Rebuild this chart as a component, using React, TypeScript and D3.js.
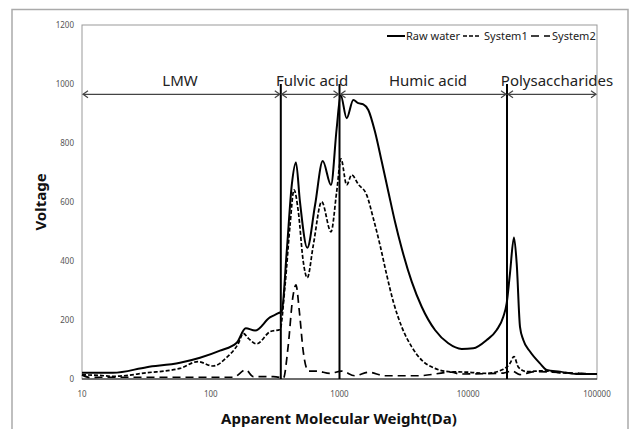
import React from "react";
import * as d3 from "d3";

const rawMW = [10, 17.4, 31.8, 57.7, 82.5, 118, 159, 187, 221, 288, 335, 356, 389, 426, 459, 493, 562, 646, 741, 859, 951, 1021, 1137, 1280, 1400, 1531, 1674, 1887, 2128, 2395, 2698, 3041, 3638, 4348, 5517, 7000, 8892, 10940, 13900, 16630, 18720, 19890, 21090, 22650, 23780, 25230, 26770, 30170, 36060, 40640, 51600, 69500, 100000];
const rawV = [21, 21, 40, 55, 72, 96, 123, 172, 164, 209, 223, 230, 431, 658, 734, 601, 445, 590, 739, 658, 850, 963, 884, 946, 935, 931, 912, 838, 737, 635, 533, 443, 330, 245, 166, 121, 102, 104, 132, 166, 211, 257, 358, 480, 392, 177, 132, 93, 53, 31, 25, 17, 17];

const s1MW = [10, 13.8, 17.4, 31.8, 57.7, 79.6, 104, 133, 164, 179, 196, 227, 288, 345, 378, 413, 443, 479, 523, 562, 626, 727, 859, 951, 1027, 1137, 1244, 1400, 1625, 1830, 2064, 2326, 2618, 3041, 3638, 4348, 5517, 7000, 10000, 13900, 18720, 21090, 22650, 24500, 28450, 38300, 51600, 100000];
const s1V = [14, 12, 9, 21, 36, 59, 44, 73, 121, 155, 138, 119, 160, 168, 319, 522, 641, 567, 398, 343, 454, 601, 499, 635, 746, 658, 692, 660, 624, 545, 454, 353, 262, 177, 109, 64, 36, 25, 23, 19, 33, 53, 76, 40, 25, 28, 21, 17];

const s2MW = [10, 11.5, 13.8, 31.8, 150, 187, 214, 306, 345, 366, 400, 433, 459, 488, 523, 573, 665, 843, 1040, 1318, 1674, 2254, 4090, 7430, 8630, 18720, 21870, 25230, 32860, 51600, 100000];
const s2V = [14, 5, 6, 6, 6, 31, 8, 8, 5, 2, 115, 274, 319, 228, 93, 27, 27, 19, 27, 11, 23, 11, 11, 23, 17, 20, 27, 15, 25, 22, 17];

const yTicks = [0, 200, 400, 600, 800, 1000, 1200];
const xTicks = [10, 100, 1000, 10000, 100000];
const boundaries = [350, 1000, 20000];
const regions = ["LMW", "Fulvic acid", "Humic acid", "Polysaccharides"];
const regionCenters = [180, 312, 428, 557];
const legendNames = ["Raw water", "System1", "System2"];

const FONT = "'Noto Sans', 'Open Sans', sans-serif";

export default function App() {
  const left = 82, right = 597, top = 25, bottom = 379;
  const x = d3.scaleLog().domain([10, 100000]).range([left, right]);
  const y = d3.scaleLinear().domain([0, 1200]).range([bottom, top]);

  const mk = (mw: number[], v: number[]) =>
    d3.line<number>().x((_, i) => x(mw[i])).y((_, i) => y(v[i])).curve(d3.curveMonotoneX)(mw.map((_, i) => i)) || "";

  const series = [
    { d: mk(rawMW, rawV), dash: "none", w: 2 },
    { d: mk(s1MW, s1V), dash: "4,2", w: 1.7 },
    { d: mk(s2MW, s2V), dash: "8,5", w: 1.7 },
  ];

  const edges = [10, ...boundaries, 100000];
  const arrowY = y(965);
  const arrowHead = (px: number, dir: number, key: string) => (
    <path key={key} d={`M${px + dir * 5},${arrowY - 3.5} L${px},${arrowY} L${px + dir * 5},${arrowY + 3.5}`} fill="none" stroke="#444" strokeWidth={1.2} />
  );

  const legendX = [387, 463, 531];
  const legendTextX = [406, 484, 552];
  const legendLen = [18, 18, 19];

  return (
    <svg width={634} height={429} style={{ position: "absolute", left: 0, top: 0, background: "#fff" }} fontFamily={FONT}>
      <rect x={12} y={9.5} width={616} height={440} fill="#fff" stroke="#aaa" strokeWidth={1.5} />
      <rect x={left} y={top} width={right - left} height={bottom - top} fill="#fff" stroke="#999" strokeWidth={1} />
      <line x1={left} x2={right} y1={bottom} y2={bottom} stroke="#111" strokeWidth={1.2} />

      {yTicks.map((t) => (
        <text key={"y" + t} x={74} y={y(t) + 3} fontSize={8} textAnchor="end" fill="#555">{t}</text>
      ))}
      {xTicks.map((t) => (
        <text key={"x" + t} x={x(t)} y={397} fontSize={8} textAnchor="middle" fill="#555">{t}</text>
      ))}

      {series.map((s, i) => (
        <path key={"s" + i} d={s.d} fill="none" stroke="#000" strokeWidth={s.w} strokeDasharray={s.dash} strokeLinejoin="round" />
      ))}

      {boundaries.map((b) => (
        <line key={"b" + b} x1={x(b)} x2={x(b)} y1={y(0)} y2={y(1000)} stroke="#000" strokeWidth={2} />
      ))}

      {edges.slice(0, -1).map((e, i) => {
        const x1 = x(e), x2 = x(edges[i + 1]);
        return (
          <g key={"a" + i}>
            <line x1={x1 + 1} x2={x2 - 1} y1={arrowY} y2={arrowY} stroke="#444" strokeWidth={1.3} />
            {arrowHead(x1 + 1, 1, "l")}
            {arrowHead(x2 - 1, -1, "r")}
          </g>
        );
      })}

      {regions.map((r, i) => (
        <text key={r} x={regionCenters[i]} y={86} fontSize={15} textAnchor="middle" fill="#222">{r}</text>
      ))}

      {legendNames.map((n, i) => (
        <g key={n}>
          <line x1={legendX[i]} x2={legendX[i] + legendLen[i]} y1={36} y2={36} stroke="#000" strokeWidth={i === 0 ? 2 : 1.6} strokeDasharray={series[i].dash} />
          <text x={legendTextX[i]} y={40} fontSize={11} fill="#222">{n}</text>
        </g>
      ))}

      <text transform="translate(46,202) rotate(-90)" fontSize={15} fontWeight="bold" textAnchor="middle" fill="#111">Voltage</text>
      <text x={339} y={424} fontSize={15} fontWeight="bold" textAnchor="middle" fill="#111">Apparent Molecular Weight(Da)</text>
    </svg>
  );
}
